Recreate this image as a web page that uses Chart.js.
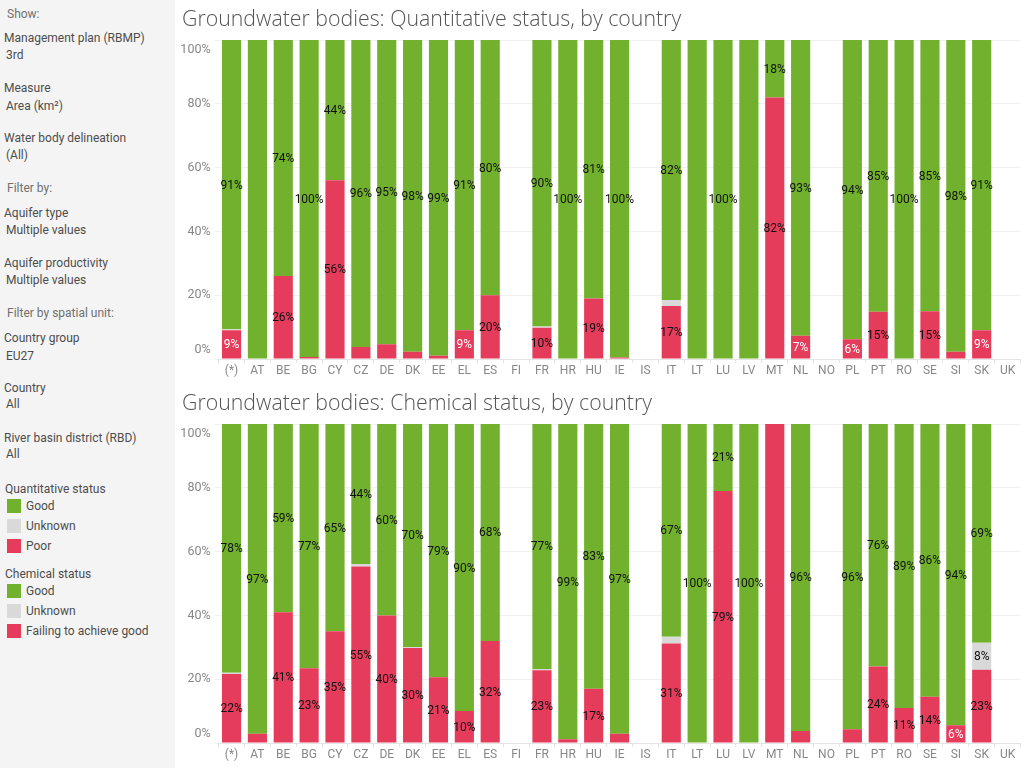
<!DOCTYPE html>
<html>
<head>
<meta charset="utf-8">
<script src="https://cdn.jsdelivr.net/npm/chart.js"></script>
<style>
  body { margin: 0; width: 1024px; height: 768px; overflow: hidden; background: #fff; font-family: Roboto, "Open Sans", sans-serif; }
  #side { position: absolute; left: 0; top: 0; width: 175px; height: 768px; background: #f4f4f4; }
  #side div { position: absolute; font-size: 12px; line-height: 16px; color: #4d4d4d; white-space: nowrap; }
  #side .head { color: #707070; }
  #side .sw { width: 14px; height: 14px; }
  canvas { position: absolute; left: 175px; }
</style>
</head>
<body>
<div id="side">
  <div class="head" style="left:7px;top:6px">Show:</div>
  <div style="left:4px;top:30px">Management plan (RBMP)</div>
  <div style="left:6px;top:47px">3rd</div>
  <div style="left:4px;top:80px">Measure</div>
  <div style="left:6px;top:98px">Area (km²)</div>
  <div style="left:4px;top:130px">Water body delineation</div>
  <div style="left:6px;top:147px">(All)</div>
  <div class="head" style="left:7px;top:180px">Filter by:</div>
  <div style="left:4px;top:205px">Aquifer type</div>
  <div style="left:6px;top:222px">Multiple values</div>
  <div style="left:4px;top:255px">Aquifer productivity</div>
  <div style="left:6px;top:272px">Multiple values</div>
  <div class="head" style="left:7px;top:305px">Filter by spatial unit:</div>
  <div style="left:4px;top:330px">Country group</div>
  <div style="left:6px;top:348px">EU27</div>
  <div style="left:4px;top:380px">Country</div>
  <div style="left:6px;top:396px">All</div>
  <div style="left:4px;top:430px">River basin district (RBD)</div>
  <div style="left:6px;top:446px">All</div>
  <div style="left:5px;top:481px">Quantitative status</div>
  <div class="sw" style="left:7px;top:499px;background:#71b12d"></div>
  <div style="left:26px;top:498px">Good</div>
  <div class="sw" style="left:7px;top:519px;background:#d9d9d9"></div>
  <div style="left:26px;top:518px">Unknown</div>
  <div class="sw" style="left:7px;top:539px;background:#e63c5c"></div>
  <div style="left:26px;top:538px">Poor</div>
  <div style="left:5px;top:566px">Chemical status</div>
  <div class="sw" style="left:7px;top:584px;background:#71b12d"></div>
  <div style="left:26px;top:583px">Good</div>
  <div class="sw" style="left:7px;top:604px;background:#d9d9d9"></div>
  <div style="left:26px;top:603px">Unknown</div>
  <div class="sw" style="left:7px;top:624px;background:#e63c5c"></div>
  <div style="left:26px;top:623px">Failing to achieve good</div>
</div>
<canvas id="quant-graph" width="849" height="384" style="top:0px"></canvas>
<canvas id="chem-graph" width="849" height="384" style="top:384px"></canvas>
<script>
var countries = ['(*)','AT','BE','BG','CY','CZ','DE','DK','EE','EL','ES','FI','FR','HR','HU','IE','IS','IT','LT','LU','LV','MT','NL','NO','PL','PT','RO','SE','SI','SK','UK'];
var yTickValues = [0, 20, 40, 60, 80, 100];
var yTickLabels = ['0%', '20%', '40%', '60%', '80%', '100%'];

// quantitative status (% of area)
var quantPoor    = [9.0, 0, 26, 0.6, 56, 3.8, 4.6, 2.3, 1.0, 9, 20, null, 9.8, 0, 19, 0.5, null, 16.6, 0, 0, 0, 82, 7.3, null, 6.2, 14.8, 0, 15, 2.3, 9, null];
var quantUnknown = [0.3, 0, 0, 0, 0, 0, 0, 0, 0, 0, 0, null, 0.4, 0, 0, 0, null, 1.8, 0, 0, 0, 0, 0, null, 0, 0, 0, 0, 0, 0, null];
var quantGood    = [90.7, 100, 74, 99.4, 44, 96.2, 95.4, 97.7, 99, 91, 80, null, 89.8, 100, 81, 99.5, null, 81.6, 100, 100, 100, 18, 92.7, null, 93.8, 85.2, 100, 85, 97.7, 91, null];
var quantPoorLbl = [9, null, 26, null, 56, null, null, null, null, 9, 20, null, 10, null, 19, null, null, 17, null, null, null, 82, 7, null, 6, 15, null, 15, null, 9, null];
var quantUnkLbl  = [null, null, null, null, null, null, null, null, null, null, null, null, null, null, null, null, null, null, null, null, null, null, null, null, null, null, null, null, null, null, null];
var quantGoodLbl = [91, null, 74, 100, 44, 96, 95, 98, 99, 91, 80, null, 90, 100, 81, 100, null, 82, null, 100, null, 18, 93, null, 94, 85, 100, 85, 98, 91, null];

// chemical status (% of area)
var chemFail    = [21.6, 2.9, 41, 23.4, 35, 55.3, 40, 29.8, 20.6, 10, 32, null, 22.8, 1.2, 17, 2.9, null, 31.2, 0, 79, 0, 100, 3.8, null, 4.3, 24, 11, 14.5, 5.6, 23, null];
var chemUnknown = [0.4, 0, 0, 0, 0, 0.8, 0, 0.3, 0, 0, 0, null, 0.4, 0, 0, 0, null, 2.1, 0, 0, 0, 0, 0, null, 0, 0, 0, 0, 0, 8.4, null];
var chemGood    = [78, 97.1, 59, 76.6, 65, 43.9, 60, 69.9, 79.4, 90, 68, null, 76.8, 98.8, 83, 97.1, null, 66.7, 100, 21, 100, 0, 96.2, null, 95.7, 76, 89, 85.5, 94.4, 68.6, null];
var chemFailLbl = [22, null, 41, 23, 35, 55, 40, 30, 21, 10, 32, null, 23, null, 17, null, null, 31, null, 79, null, null, null, null, null, 24, 11, 14, 6, 23, null];
var chemUnkLbl  = [null, null, null, null, null, null, null, null, null, null, null, null, null, null, null, null, null, null, null, null, null, null, null, null, null, null, null, null, null, 8, null];
var chemGoodLbl = [78, 97, 59, 77, 65, 44, 60, 70, 79, 90, 68, null, 77, 99, 83, 97, null, 67, 100, 21, 100, null, 96, null, 96, 76, 89, 86, 94, 69, null];

var GREEN = '#71b12d', GREY = '#d9d9d9', RED = '#e63c5c';

// draws the % text in the middle of each segment
var barLabels = {
	id: 'barLabels',
	afterDatasetsDraw: function(chart) {
		var ctx = chart.ctx;
		ctx.save();
		ctx.font = '12px Roboto';
		ctx.textAlign = 'center';
		ctx.textBaseline = 'middle';
		chart.data.datasets.forEach(function(ds, i) {
			chart.getDatasetMeta(i).data.forEach(function(bar, j) {
				var v = ds.valueLabels[j];
				if (v === null) return;
				ctx.fillStyle = (i === 0 && v < 10) ? '#ffffff' : '#111111';
				ctx.fillText(v + '%', bar.x, (bar.y + bar.base) / 2 + 1);
			});
		});
		ctx.restore();
	}
};

// y labels, tableau style (end labels pulled inside)
var yLabels = {
	id: 'yLabels',
	afterDraw: function(chart) {
		var ctx = chart.ctx, s = chart.scales.y;
		ctx.save();
		ctx.font = '12.5px Roboto';
		ctx.fillStyle = '#888888';
		ctx.textAlign = 'right';
		ctx.textBaseline = 'middle';
		yTickValues.forEach(function(v, k) {
			var y = s.getPixelForValue(v);
			if (k === 0) y -= 9;
			if (k === yTickValues.length - 1) y += 10;
			ctx.fillText(yTickLabels[k], chart.chartArea.left - 8, y);
		});
		ctx.restore();
	}
};

function makeChart(id, title, sets) {
	return new Chart(document.getElementById(id), {
		type: 'bar',
		data: {
			labels: countries,
			datasets: sets.map(function(s) {
				return {
					label: s[0],
					data: s[1],
					valueLabels: s[2],
					backgroundColor: s[3],
					borderWidth: 0,
					barPercentage: 0.74,
					categoryPercentage: 1
				};
			})
		},
		options: {
			responsive: false,
			animation: false,
			devicePixelRatio: 1,
			layout: { padding: { left: 7, right: 3.5, top: 0, bottom: 0 } },
			plugins: {
				legend: { display: false },
				tooltip: { enabled: false },
				title: {
					display: true,
					text: title,
					align: 'start',
					color: '#555555',
					font: { family: 'Open Sans', size: 21.3, weight: '300', lineHeight: 1.2 },
					padding: { top: 7, bottom: 7.44 }
				}
			},
			scales: {
				x: {
					stacked: true,
					afterFit: function(scale) { scale.height = 25; },
					grid: { display: true, drawOnChartArea: false, drawTicks: true, tickLength: 4, color: '#e4e4e4' },
					border: { display: true, color: '#e4e4e4' },
					ticks: { color: '#888888', font: { family: 'Roboto', size: 12 }, padding: 1, maxRotation: 0, autoSkip: false }
				},
				y: {
					stacked: true,
					min: 0,
					max: 100,
					afterFit: function(scale) { scale.width = 36.6; },
					grid: { color: '#f0f0f0', tickLength: 4 },
					border: { display: false },
					ticks: { display: false, stepSize: 20 }
				}
			}
		},
		plugins: [barLabels, yLabels]
	});
}

makeChart('quant-graph', 'Groundwater bodies: Quantitative status, by country', [
	['Poor', quantPoor, quantPoorLbl, RED],
	['Unknown', quantUnknown, quantUnkLbl, GREY],
	['Good', quantGood, quantGoodLbl, GREEN]
]);

makeChart('chem-graph', 'Groundwater bodies: Chemical status, by country', [
	['Failing to achieve good', chemFail, chemFailLbl, RED],
	['Unknown', chemUnknown, chemUnkLbl, GREY],
	['Good', chemGood, chemGoodLbl, GREEN]
]);
</script>
</body>
</html>
